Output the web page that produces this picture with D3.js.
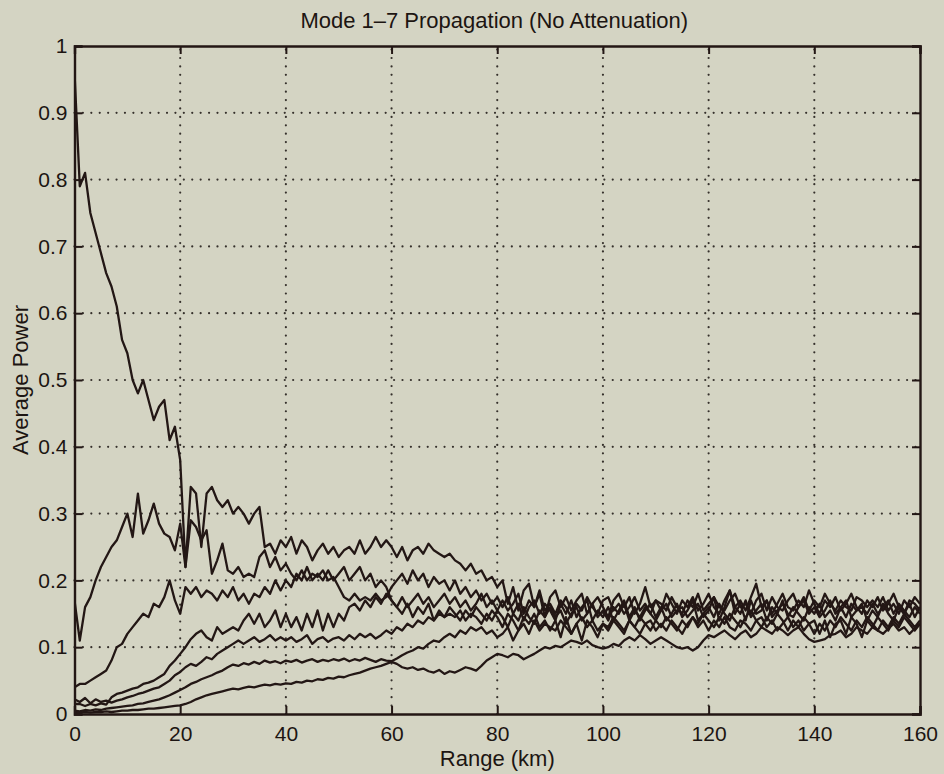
<!DOCTYPE html>
<html>
<head>
<meta charset="utf-8">
<script src="https://cdn.jsdelivr.net/npm/d3@7"></script>
<style>
  html, body { margin: 0; padding: 0; background: #d4d4c3; }
  svg { display: block; }
  text { font-family: "Liberation Sans", Arial, Helvetica, sans-serif; fill: #1c1512; }
</style>
</head>
<body>
<svg id="chart" width="944" height="774"></svg>
<script>
// ---- data (Average Power vs Range, one value per km, 0..160 km) ----
const titleText = "Mode 1\u20137 Propagation (No Attenuation)";
const xLabel = "Range (km)";
const yLabel = "Average Power";
const xTicks = [0, 20, 40, 60, 80, 100, 120, 140, 160];
const yTicks = [0, 0.1, 0.2, 0.3, 0.4, 0.5, 0.6, 0.7, 0.8, 0.9, 1];

const mode1 = [0.96,
 0.79,0.81,0.75,0.72,0.69,0.66,0.64,0.61,0.56,0.54,
 0.50,0.48,0.50,0.47,0.44,0.46,0.47,0.41,0.43,0.38,
 0.22,0.34,0.33,0.25,0.33,0.34,0.32,0.31,0.32,0.30,
 0.31,0.30,0.285,0.30,0.31,0.25,0.255,0.24,0.26,0.25,
 0.265,0.24,0.26,0.25,0.23,0.245,0.255,0.24,0.25,0.235,
 0.245,0.25,0.24,0.26,0.24,0.25,0.265,0.25,0.26,0.25,
 0.235,0.25,0.23,0.245,0.25,0.24,0.255,0.245,0.24,0.235,
 0.24,0.23,0.225,0.215,0.225,0.21,0.215,0.2,0.205,0.19,
 0.2,0.165,0.19,0.155,0.185,0.195,0.16,0.18,0.145,0.175,
 0.185,0.16,0.175,0.155,0.17,0.18,0.15,0.165,0.175,0.16,
 0.145,0.17,0.18,0.16,0.175,0.15,0.165,0.19,0.16,0.17,
 0.155,0.18,0.165,0.15,0.17,0.16,0.175,0.155,0.165,0.18,
 0.16,0.15,0.17,0.185,0.16,0.17,0.155,0.175,0.195,0.16,
 0.17,0.15,0.165,0.18,0.16,0.155,0.17,0.16,0.185,0.165,
 0.15,0.17,0.16,0.175,0.155,0.165,0.18,0.16,0.15,0.17,
 0.16,0.175,0.155,0.165,0.18,0.16,0.15,0.17,0.165,0.155];

const mode2 = [0.17,
 0.11,0.16,0.175,0.2,0.22,0.235,0.25,0.26,0.28,0.3,
 0.265,0.33,0.27,0.29,0.315,0.285,0.27,0.265,0.245,0.285,
 0.22,0.29,0.28,0.26,0.275,0.21,0.23,0.255,0.215,0.21,
 0.22,0.205,0.21,0.205,0.235,0.245,0.22,0.235,0.215,0.225,
 0.21,0.2,0.215,0.2,0.21,0.205,0.215,0.2,0.205,0.19,
 0.175,0.17,0.18,0.17,0.175,0.17,0.18,0.17,0.175,0.19,
 0.2,0.21,0.195,0.215,0.2,0.21,0.19,0.205,0.195,0.2,
 0.185,0.2,0.18,0.19,0.175,0.185,0.17,0.18,0.165,0.175,
 0.16,0.175,0.15,0.165,0.14,0.16,0.17,0.15,0.165,0.155,
 0.14,0.165,0.15,0.17,0.145,0.16,0.17,0.14,0.155,0.145,
 0.16,0.14,0.155,0.17,0.145,0.16,0.14,0.155,0.165,0.145,
 0.16,0.14,0.15,0.165,0.145,0.155,0.17,0.14,0.15,0.16,
 0.145,0.165,0.15,0.14,0.16,0.15,0.17,0.145,0.155,0.165,
 0.14,0.16,0.15,0.17,0.145,0.16,0.15,0.14,0.16,0.15,
 0.165,0.145,0.155,0.14,0.16,0.17,0.145,0.155,0.165,0.14,
 0.155,0.145,0.165,0.15,0.14,0.16,0.15,0.165,0.145,0.16];

const mode3 = [0.04,
 0.045,0.045,0.05,0.055,0.06,0.065,0.08,0.1,0.105,0.12,
 0.13,0.14,0.15,0.145,0.165,0.16,0.175,0.2,0.17,0.15,
 0.19,0.18,0.19,0.175,0.185,0.18,0.17,0.185,0.175,0.19,
 0.17,0.18,0.165,0.18,0.175,0.19,0.18,0.2,0.185,0.2,
 0.19,0.21,0.2,0.22,0.2,0.21,0.2,0.215,0.2,0.21,
 0.22,0.2,0.21,0.22,0.2,0.21,0.19,0.2,0.19,0.17,
 0.16,0.175,0.16,0.17,0.18,0.165,0.175,0.16,0.17,0.18,
 0.165,0.175,0.16,0.17,0.155,0.165,0.18,0.16,0.17,0.155,
 0.17,0.155,0.165,0.18,0.15,0.17,0.16,0.185,0.155,0.165,
 0.15,0.17,0.16,0.145,0.165,0.155,0.175,0.16,0.15,0.17,
 0.175,0.155,0.165,0.15,0.16,0.175,0.155,0.165,0.15,0.17,
 0.165,0.155,0.175,0.16,0.15,0.17,0.16,0.18,0.155,0.165,
 0.175,0.16,0.155,0.17,0.18,0.16,0.165,0.15,0.17,0.18,
 0.155,0.175,0.16,0.155,0.17,0.18,0.16,0.175,0.155,0.17,
 0.16,0.18,0.165,0.155,0.17,0.16,0.155,0.175,0.17,0.16,
 0.17,0.16,0.175,0.155,0.165,0.15,0.17,0.16,0.175,0.165];

const mode4 = [0.015,
 0.015,0.012,0.015,0.013,0.016,0.014,0.025,0.03,0.032,0.035,
 0.038,0.04,0.045,0.047,0.05,0.055,0.06,0.072,0.08,0.09,
 0.1,0.112,0.12,0.125,0.115,0.11,0.13,0.12,0.125,0.13,
 0.125,0.14,0.15,0.135,0.15,0.13,0.14,0.155,0.13,0.15,
 0.13,0.145,0.125,0.15,0.13,0.155,0.125,0.15,0.13,0.15,
 0.14,0.16,0.165,0.155,0.17,0.16,0.175,0.165,0.18,0.17,
 0.16,0.15,0.165,0.145,0.16,0.15,0.165,0.14,0.155,0.145,
 0.16,0.15,0.14,0.155,0.145,0.16,0.15,0.14,0.155,0.145,
 0.13,0.15,0.14,0.125,0.145,0.135,0.15,0.13,0.14,0.125,
 0.14,0.115,0.145,0.12,0.135,0.11,0.14,0.13,0.115,0.135,
 0.125,0.14,0.13,0.12,0.14,0.13,0.145,0.135,0.125,0.14,
 0.13,0.145,0.135,0.125,0.14,0.13,0.145,0.135,0.15,0.14,
 0.13,0.145,0.135,0.15,0.14,0.13,0.145,0.155,0.14,0.13,
 0.145,0.135,0.15,0.14,0.125,0.14,0.13,0.145,0.135,0.12,
 0.135,0.125,0.14,0.13,0.145,0.135,0.125,0.14,0.13,0.145,
 0.135,0.125,0.14,0.13,0.145,0.135,0.15,0.14,0.13,0.14];

const mode5 = [0.022,
 0.018,0.024,0.016,0.022,0.018,0.02,0.017,0.02,0.022,0.025,
 0.027,0.03,0.032,0.035,0.038,0.04,0.045,0.05,0.058,0.063,
 0.07,0.075,0.072,0.078,0.085,0.082,0.09,0.095,0.1,0.105,
 0.11,0.105,0.11,0.115,0.108,0.112,0.118,0.11,0.115,0.11,
 0.115,0.108,0.112,0.118,0.105,0.112,0.115,0.108,0.113,0.115,
 0.11,0.118,0.112,0.12,0.115,0.12,0.113,0.118,0.125,0.12,
 0.13,0.125,0.135,0.13,0.14,0.135,0.145,0.14,0.15,0.145,
 0.15,0.145,0.155,0.14,0.15,0.145,0.135,0.15,0.14,0.155,
 0.145,0.13,0.15,0.14,0.16,0.145,0.135,0.155,0.145,0.16,
 0.145,0.155,0.135,0.15,0.16,0.14,0.15,0.165,0.145,0.155,
 0.14,0.16,0.15,0.165,0.14,0.155,0.145,0.16,0.15,0.14,
 0.155,0.165,0.145,0.155,0.16,0.145,0.155,0.165,0.145,0.155,
 0.175,0.14,0.16,0.185,0.15,0.165,0.14,0.17,0.15,0.155,
 0.17,0.145,0.155,0.165,0.15,0.145,0.16,0.17,0.15,0.16,
 0.145,0.155,0.17,0.15,0.16,0.145,0.165,0.155,0.16,0.15,
 0.165,0.15,0.16,0.17,0.15,0.165,0.155,0.145,0.16,0.15];

const mode6 = [0.005,
 0.004,0.006,0.005,0.007,0.006,0.008,0.009,0.01,0.011,0.012,
 0.013,0.015,0.016,0.018,0.02,0.022,0.025,0.028,0.032,0.036,
 0.04,0.045,0.048,0.052,0.055,0.058,0.062,0.065,0.07,0.074,
 0.072,0.076,0.074,0.078,0.075,0.08,0.077,0.079,0.076,0.08,
 0.078,0.081,0.077,0.08,0.082,0.078,0.081,0.079,0.082,0.08,
 0.083,0.079,0.082,0.08,0.084,0.081,0.078,0.082,0.08,0.079,
 0.083,0.088,0.092,0.095,0.1,0.098,0.105,0.11,0.108,0.115,
 0.12,0.115,0.125,0.12,0.13,0.125,0.13,0.12,0.125,0.115,
 0.12,0.13,0.11,0.125,0.135,0.12,0.14,0.125,0.135,0.13,
 0.125,0.14,0.13,0.12,0.135,0.145,0.13,0.14,0.125,0.135,
 0.13,0.145,0.135,0.125,0.14,0.13,0.12,0.135,0.14,0.125,
 0.135,0.125,0.14,0.13,0.12,0.135,0.145,0.13,0.14,0.125,
 0.14,0.13,0.145,0.13,0.125,0.14,0.135,0.125,0.14,0.145,
 0.13,0.14,0.125,0.135,0.145,0.13,0.14,0.125,0.135,0.14,
 0.12,0.14,0.115,0.135,0.14,0.12,0.145,0.135,0.115,0.14,
 0.13,0.145,0.135,0.125,0.14,0.13,0.145,0.135,0.125,0.135];

const mode7 = [0.002,
 0.002,0.003,0.002,0.003,0.003,0.004,0.003,0.004,0.005,0.005,
 0.006,0.006,0.007,0.008,0.008,0.009,0.01,0.011,0.012,0.013,
 0.015,0.018,0.022,0.025,0.028,0.03,0.032,0.034,0.036,0.038,
 0.037,0.039,0.041,0.04,0.042,0.044,0.043,0.045,0.044,0.046,
 0.045,0.048,0.047,0.05,0.049,0.052,0.051,0.054,0.053,0.056,
 0.055,0.058,0.06,0.062,0.065,0.068,0.07,0.072,0.075,0.078,
 0.075,0.07,0.068,0.07,0.066,0.068,0.064,0.062,0.066,0.06,
 0.064,0.062,0.066,0.07,0.068,0.065,0.072,0.08,0.085,0.09,
 0.088,0.085,0.09,0.088,0.082,0.086,0.09,0.095,0.1,0.098,
 0.102,0.1,0.105,0.11,0.108,0.105,0.11,0.103,0.1,0.098,
 0.1,0.105,0.102,0.11,0.115,0.11,0.118,0.112,0.105,0.11,
 0.115,0.11,0.105,0.1,0.098,0.1,0.095,0.1,0.11,0.118,
 0.115,0.12,0.125,0.118,0.112,0.12,0.125,0.115,0.12,0.13,
 0.125,0.12,0.13,0.125,0.118,0.125,0.13,0.12,0.112,0.108,
 0.11,0.112,0.118,0.12,0.125,0.115,0.12,0.13,0.125,0.12,
 0.13,0.125,0.12,0.128,0.135,0.125,0.13,0.12,0.128,0.135];

const seriesList = [mode1, mode2, mode3, mode4, mode5, mode6, mode7];

// ---- layout ----
const W = 944, H = 774;
const mLeft = 74.5, mRight = 920, mTop = 46, mBottom = 714;

const svg = d3.select("#chart");
svg.append("rect").attr("width", W).attr("height", H).attr("fill", "#d4d4c3");

const x = d3.scaleLinear().domain([0, 160]).range([mLeft, mRight]);
const y = d3.scaleLinear().domain([0, 1]).range([mBottom, mTop]);

const ink = "#231715";

// grid (dotted)
const grid = svg.append("g").attr("stroke", "#36312c").attr("stroke-width", 2.2)
  .attr("stroke-linecap", "round").attr("stroke-dasharray", "0.01,8.4");
grid.selectAll("line.gx").data(xTicks.slice(1, -1)).join("line")
  .attr("class", "gx")
  .attr("x1", d => x(d)).attr("x2", d => x(d)).attr("y1", mBottom).attr("y2", mTop);
grid.selectAll("line.gy").data(yTicks.slice(1, -1)).join("line")
  .attr("class", "gy")
  .attr("x1", mLeft).attr("x2", mRight).attr("y1", d => y(d)).attr("y2", d => y(d));

// clip
svg.append("clipPath").attr("id", "clip").append("rect")
  .attr("x", mLeft).attr("y", mTop).attr("width", mRight - mLeft).attr("height", mBottom - mTop);

// lines
const line = d3.line().x((d, i) => x(i * 160 / (seriesList[0].length - 1))).y(d => y(d));
const lines = svg.append("g").attr("clip-path", "url(#clip)");
seriesList.forEach(s => {
  lines.append("path").datum(s)
    .attr("fill", "none").attr("stroke", ink).attr("stroke-width", 2.3)
    .attr("stroke-linejoin", "round")
    .attr("d", line);
});

// axes with inward ticks (MATLAB style)
const tl = 8;
const axB = d3.axisBottom(x).tickValues(xTicks).tickSize(-tl).tickFormat(d3.format("d"));
const axT = d3.axisTop(x).tickValues(xTicks).tickSize(-tl).tickFormat("");
const axL = d3.axisLeft(y).tickValues(yTicks).tickSize(-tl).tickFormat(d => d === 0 ? "0" : d === 1 ? "1" : d3.format(".1f")(d));
const axR = d3.axisRight(y).tickValues(yTicks).tickSize(-tl).tickFormat("");

function style(g) {
  g.selectAll("path.domain").attr("stroke", ink).attr("stroke-width", 2.4);
  g.selectAll(".tick line").attr("stroke", ink).attr("stroke-width", 2);
  g.selectAll(".tick text").attr("fill", "#1c1512")
    .style("font-family", "'Liberation Sans', Arial, sans-serif").style("font-size", "21px");
}
const gB = svg.append("g").attr("transform", `translate(0,${mBottom})`).call(axB).call(style);
gB.selectAll(".tick text").attr("y", 12).attr("dy", "0.71em");
const gT = svg.append("g").attr("transform", `translate(0,${mTop})`).call(axT).call(style);
const gL = svg.append("g").attr("transform", `translate(${mLeft},0)`).call(axL).call(style);
gL.selectAll(".tick text").attr("x", -7);
const gR = svg.append("g").attr("transform", `translate(${mRight},0)`).call(axR).call(style);

// titles
svg.append("text").attr("x", (mLeft + mRight) / 2 - 3).attr("y", 28)
  .attr("text-anchor", "middle").style("font-size", "22px").text(titleText);
svg.append("text").attr("x", (mLeft + mRight) / 2).attr("y", 766)
  .attr("text-anchor", "middle").style("font-size", "22px").text(xLabel);
svg.append("text").attr("transform", `translate(28,${(mTop + mBottom) / 2}) rotate(-90)`)
  .attr("text-anchor", "middle").style("font-size", "22px").text(yLabel);
</script>
</body>
</html>
